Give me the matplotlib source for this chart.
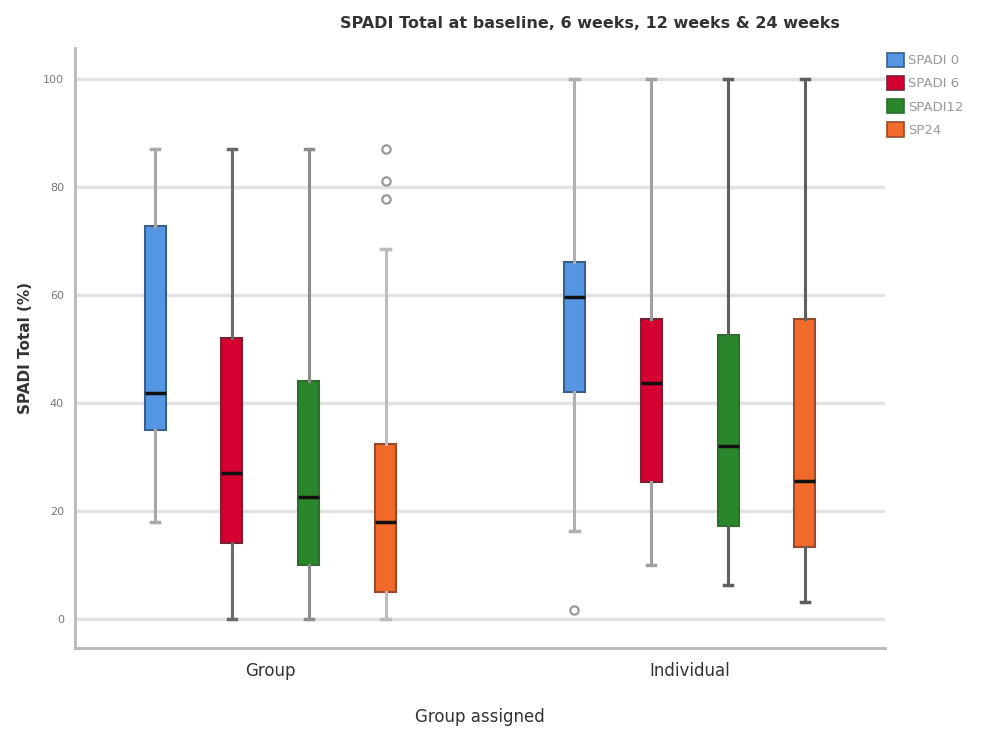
import matplotlib
matplotlib.use("Agg")

import matplotlib.pyplot as plt
from matplotlib.patches import Patch

groups = ["Group", "Individual"]
series = ["SPADI 0", "SPADI 6", "SPADI12", "SP24"]
colors = ["#5596e3", "#d50032", "#2a862a", "#f26a2a"]
edge_colors = ["#3b5f8c", "#7a2035", "#2c6e2c", "#9a4a2a"]

# five-number summaries: [low whisker, q1, median, q3, high whisker]
group_stats = [
    [18.0, 35.0, 41.8, 72.7, 87.0],
    [0.0, 14.0, 27.0, 52.0, 87.0],
    [0.0, 10.0, 22.5, 44.0, 87.0],
    [0.0, 5.0, 18.0, 32.3, 68.5],
]
individual_stats = [
    [16.2, 42.0, 59.6, 66.0, 100.0],
    [10.0, 25.4, 43.6, 55.6, 100.0],
    [6.3, 17.2, 32.1, 52.5, 100.0],
    [3.2, 13.4, 25.5, 55.6, 100.0],
]
group_outliers = [[], [], [], [87.0, 81.0, 77.8]]
individual_outliers = [[1.7], [], [], []]

whisker_group = ["#a8a8a8", "#6a6a6a", "#8c8c8c", "#bdbdbd"]
whisker_indiv = ["#b0b0b0", "#a0a0a0", "#5e5e5e", "#5e5e5e"]

offsets = [-0.275, -0.092, 0.092, 0.275]

fig = plt.figure(figsize=(9.87, 7.31), dpi=100)
ax = fig.add_axes([0.076, 0.1135, 0.8207, 0.8208])

for gi, (stats, outl, wcols) in enumerate([
    (group_stats, group_outliers, whisker_group),
    (individual_stats, individual_outliers, whisker_indiv),
]):
    for si in range(4):
        lo, q1, med, q3, hi = stats[si]
        d = [{"whislo": lo, "q1": q1, "med": med, "q3": q3, "whishi": hi,
              "fliers": outl[si]}]
        ax.bxp(d, positions=[gi + offsets[si]], widths=0.05,
               patch_artist=True, showcaps=True,
               boxprops=dict(facecolor=colors[si], edgecolor=edge_colors[si], linewidth=1.5),
               medianprops=dict(color="#111111", linewidth=2.5),
               whiskerprops=dict(color=wcols[si], linewidth=2.2),
               capprops=dict(color=wcols[si], linewidth=2.5),
               capwidths=0.02,
               flierprops=dict(marker="o", markersize=6, markerfacecolor="none",
                               markeredgecolor="#999999", markeredgewidth=1.6),
               manage_ticks=False, zorder=3)

ax.set_xlim(-0.466, 1.466)
ax.set_ylim(-5.4, 105.7)
ax.set_yticks([0, 20, 40, 60, 80, 100])
ax.set_xticks([0, 1])
ax.set_xticklabels(groups, fontsize=12, color="#333333")
ax.tick_params(axis="y", labelsize=8, colors="#777777", length=0, pad=8)
ax.tick_params(axis="x", length=0, pad=10)
ax.yaxis.grid(True, color="#e2e2e2", linewidth=2.5, zorder=0)
ax.set_axisbelow(True)

for side in ["top", "right"]:
    ax.spines[side].set_visible(False)
for side in ["left", "bottom"]:
    ax.spines[side].set_color("#b8b8b8")
    ax.spines[side].set_linewidth(2)

ax.set_ylabel("SPADI Total (%)", fontsize=11, fontweight="bold", color="#333333", labelpad=7)
ax.set_xlabel("Group assigned", fontsize=12, color="#333333", labelpad=20)

fig.text(0.598, 0.968, "SPADI Total at baseline, 6 weeks, 12 weeks & 24 weeks",
         ha="center", va="center", fontsize=11.5, fontweight="bold", color="#333333")

handles = [Patch(facecolor=c, edgecolor=e, linewidth=1.2) for c, e in zip(colors, edge_colors)]
fig.legend(handles, series, loc="upper left", bbox_to_anchor=(0.899, 0.928),
           frameon=False, fontsize=9.5, labelcolor="#999999",
           handlelength=1.3, handleheight=1.3, handletextpad=0.3, labelspacing=0.65,
           borderaxespad=0, borderpad=0)

fig.savefig("out.png", dpi=100)
